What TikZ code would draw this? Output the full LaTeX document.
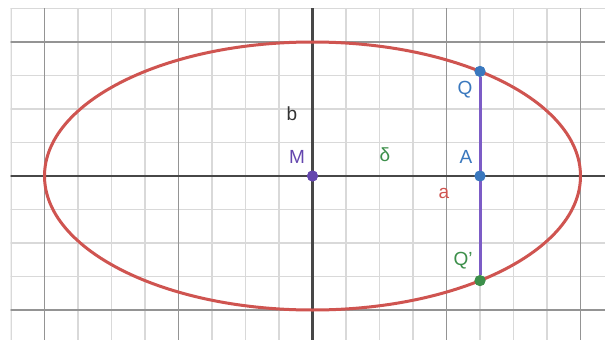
\documentclass[tikz,border=0pt]{standalone}
\usepackage{fontspec}
\setmainfont{Liberation Sans}
\definecolor{dred}{HTML}{CF5450}
\definecolor{dblue}{HTML}{3A78BE}
\definecolor{dgreen}{HTML}{3C8F4A}
\definecolor{dpurple}{HTML}{6446AE}
\definecolor{dseg}{HTML}{7C5CC6}
\definecolor{dtext}{HTML}{333333}
\tikzset{
  minorgrid/.style={draw=black!15,line width=1.1pt},
  majorgrid/.style={draw=black!42,line width=1.2pt},
  axisline/.style={draw=black!72,line width=2.2pt},
  pt/.style={circle,inner sep=0pt,minimum size=11pt},
  lbl/.style={font=\fontsize{19}{21}\selectfont,inner sep=0pt}
}
\begin{document}
\begin{tikzpicture}[x=1pt,y=-1pt]
\useasboundingbox (0,0) rectangle (605,340);
\fill[white] (0,0) rectangle (605,340);
\begin{scope}
\clip (10.5,8) rectangle (605,340);
\foreach \k in {-9,...,9} {
  \draw[minorgrid] ({312.5+33.5*\k},0) -- ({312.5+33.5*\k},340);
}
\foreach \k in {-5,...,5} {
  \draw[minorgrid] (0,{176+33.5*\k}) -- (605,{176+33.5*\k});
}
\foreach \k in {-8,-4,4,8} {
  \draw[majorgrid] ({312.5+33.5*\k},0) -- ({312.5+33.5*\k},340);
}
\foreach \k in {-4,4} {
  \draw[majorgrid] (0,{176+33.5*\k}) -- (605,{176+33.5*\k});
}
\draw[axisline] (0,176) -- (605,176);
\draw[axisline] (312.5,0) -- (312.5,340);
\end{scope}
\coordinate (C) at (312.5,176);
\draw[dred,line width=3pt] (C) ellipse [x radius=268pt, y radius=134pt];
\node[pt,fill=dpurple] (M) at (312.5,176) {};
\node[pt,fill=dblue] (Q) at (480,71.4) {};
\node[pt,fill=dgreen] (Qp) at (480,280.6) {};
\node[pt,fill=dblue] (A) at (480,176) {};
\draw[dseg,line width=3pt] (Q) -- (Qp);
\node[pt,fill=dblue] at (A) {};
\node[pt,fill=dblue] at (Q) {};
\node[pt,fill=dgreen] at (Qp) {};
\node[pt,fill=dpurple] at (M) {};
\node[lbl,text=dblue] (lQ) at (465,90) {Q};
\node[lbl,text=dblue] (lA) at (466,157) {A};
\node[lbl,text=dgreen] (lQp) at (463,261) {Q'};
\node[lbl,text=dred] (la) at (444,193) {a};
\node[lbl,text=dgreen] (ld) at (385,155) {δ};
\node[lbl,text=dpurple] (lM) at (297,157) {M};
\node[lbl,text=dtext] (lb) at (292,114) {b};
\end{tikzpicture}
\end{document}
